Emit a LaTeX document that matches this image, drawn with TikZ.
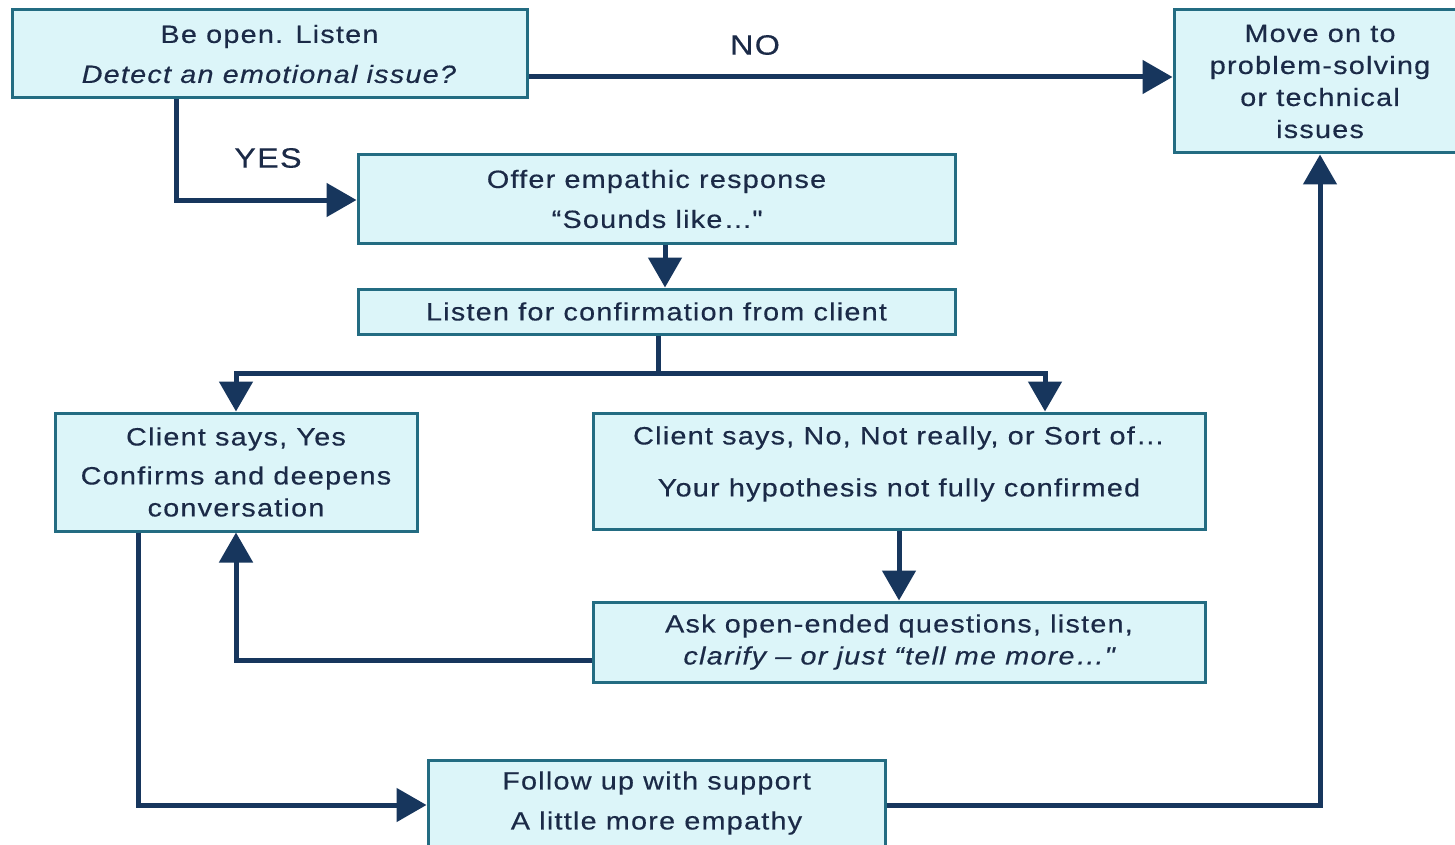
\documentclass[tikz,border=0pt]{standalone}
\usepackage{fontspec}
\setmainfont{Liberation Sans}[FakeStretch=1.15,LetterSpace=5,FakeBold=0.4]
\usetikzlibrary{arrows.meta}
\definecolor{navy}{HTML}{17365D}
\definecolor{boxfill}{HTML}{DCF5F9}
\definecolor{boxedge}{HTML}{236C82}
\definecolor{txt}{HTML}{1B2A47}
\tikzset{
  box/.style={draw=boxedge, line width=3pt, fill=boxfill, text=txt, align=center,
    inner sep=0pt, font=\fontsize{25}{32}\selectfont},
  conn/.style={draw=navy, line width=5pt},
  arr/.style={conn, -{Triangle[length=30pt,width=33pt]}},
  lbl/.style={text=txt, font=\fontsize{28}{32}\selectfont, inner sep=0pt},
}
\begin{document}
\begin{tikzpicture}[x=1pt,y=-1pt]
\useasboundingbox[fill=white] (0,0) rectangle (1455,845);

% nodes
\node[box, minimum width=515, minimum height=88] (A) at (269.5,54)
  {Be open.  Listen\\[8pt]\textit{Detect an emotional issue?}};
\node[box, minimum width=292, minimum height=143] (B) at (1320,81.5)
  {Move on to\\problem-solving\\or technical\\issues};
\node[box, minimum width=597, minimum height=88] (C) at (656.5,199)
  {Offer empathic response\\[8pt]“Sounds like…\textquotedbl};
\node[box, minimum width=597, minimum height=45] (D) at (656.5,311.5)
  {Listen for confirmation from client};
\node[box, minimum width=362, minimum height=118] (E) at (236,472)
  {Client says, Yes\\[7pt]Confirms and deepens\\conversation};
\node[box, minimum width=612, minimum height=116] (F) at (899,471)
  {\raisebox{7pt}[\height][\depth]{\begin{tabular}{@{}c@{}}Client says, No, Not really, or Sort of…\\[20pt]Your hypothesis not fully confirmed\end{tabular}}};
\node[box, minimum width=612, minimum height=80] (G) at (899,642)
  {Ask open-ended questions, listen,\\\textit{clarify – or just “tell me more…\textquotedbl}};
\node[box, minimum width=457, minimum height=86] (H) at (656.5,803)
  {Follow up with support\\[8pt]A little more empathy};

\node[lbl] (no) at (755,45) {NO};
\node[lbl] (yes) at (268,158) {YES};

\coordinate (split) at (658,373);

% connectors
\draw[arr] (A.east |- 0,77) -- (B.west |- 0,77);
\draw[arr] (A.south -| 176,0) |- (C.west |- 0,200);
\draw[arr] (C.south -| 665,0) -- (D.north -| 665,0);
\draw[conn] (D.south -| split) -- (split);
\draw[arr] (split) -| (E.north);
\draw[arr] (split) -| (F.north -| 1045,0);
\draw[arr] (F.south) -- (G.north);
\draw[arr] (G.west |- 0,660) -| (E.south);
\draw[arr] (E.south -| 138,0) |- (H.west |- 0,805);
\draw[arr] (H.east |- 0,805) -| (B.south);
\end{tikzpicture}
\end{document}
